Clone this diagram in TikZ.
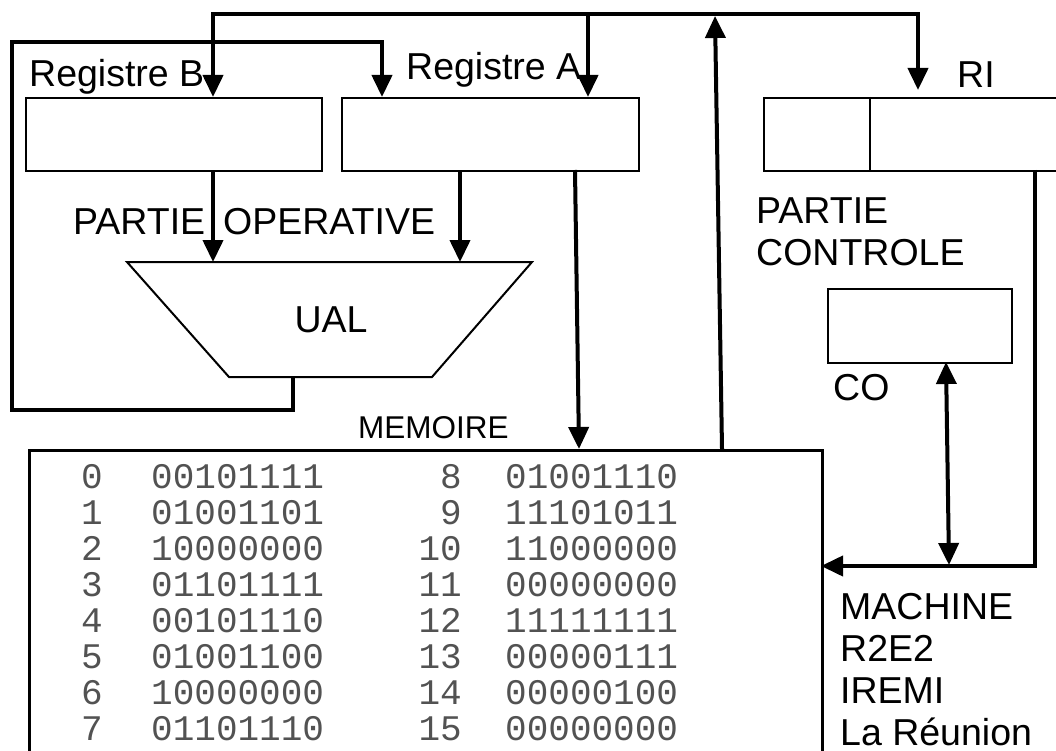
\documentclass[tikz,border=0pt]{standalone}
\usepackage{fontspec}
\setmainfont{Liberation Sans}
\newfontfamily\memfont{Liberation Mono}
\usetikzlibrary{arrows.meta,calc}
\begin{document}
\begin{tikzpicture}[x=1pt,y=-1pt,
  bus/.style={line width=4pt},
  tipx/.style={-{Triangle[length=22pt,width=20pt]}},
  tipboth/.style={{Triangle[length=22pt,width=20pt]}-{Triangle[length=22pt,width=20pt]}},
  box/.style={draw,line width=2pt,rectangle,inner sep=0pt,anchor=north west},
  lbl/.style={inner sep=0pt,anchor=base west,font=\fontsize{37.5}{42}\selectfont},
  mem/.style={inner sep=0pt,font=\memfont\fontsize{36}{36}\selectfont,text=black!68},
]
\useasboundingbox (0,0) rectangle (1056,751);
\clip (0,0) rectangle (1056,751);
\fill[white] (0,0) rectangle (1056,751);

% boxes
\node[box,minimum width=296pt,minimum height=73pt] (regB) at (25,97) {};
\node[box,minimum width=297pt,minimum height=73pt] (regA) at (341,97) {};
\node[box,minimum width=390pt,minimum height=73pt] (ri) at (763,97) {};
\draw[line width=1.2pt] ($(ri.north west)+(107,0)$) -- ($(ri.south west)+(107,0)$);
\node[box,minimum width=184pt,minimum height=74pt] (co) at (827,288) {};
\node[box,line width=2.5pt,minimum width=793pt,minimum height=400pt] (mem) at (28,449) {};

% UAL trapezoid
\coordinate (uTL) at (127,262);
\coordinate (uTR) at (532,262);
\coordinate (uBR) at (432,377);
\coordinate (uBL) at (229,377);
\draw[line width=2pt,line join=miter] (uTL) -- (uTR) -- (uBR) -- (uBL) -- cycle;
\node[inner sep=0pt,anchor=base,font=\fontsize{37.5}{42}\selectfont] (ual) at (331,332) {UAL};

% bus coordinates
\coordinate (busL) at (213,14);
\coordinate (busA) at (588,14);
\coordinate (busU) at (715,16);
\coordinate (busR) at (918,14);
\coordinate (memU) at (722,449);

\draw[bus,line cap=rect] (busL) -- (busR);
\draw[bus,tipx] (busL) -- (busL |- regB.north);
\draw[bus,tipx] (busA) -- (busA |- regA.north);
\draw[bus,tipx,shorten >=7pt] (busR) -- (busR |- ri.north);
\draw[bus,tipx] (memU) -- (busU);

% loop from UAL output to Registre A
\coordinate (ualOut) at (293,377);
\coordinate (loopBL) at (12,410);
\coordinate (loopTL) at (12,42);
\coordinate (loopTR) at (382,42);
\draw[bus,tipx,line join=miter] (ualOut) -- (ualOut |- loopBL) -- (loopBL) -- (loopTL) -- (loopTR) -- (loopTR |- regA.north);

% registers to UAL
\coordinate (ualInB) at (213,262);
\coordinate (ualInA) at (460,262);
\draw[bus,tipx] (ualInB |- regB.south) -- (ualInB);
\draw[bus,tipx] (ualInA |- regA.south) -- (ualInA);

% Registre A to memory
\coordinate (aOut) at (575,170);
\coordinate (mIn) at (579,449);
\draw[bus,tipx] (aOut) -- (mIn);

% RI to memory
\coordinate (riOut) at (1035,170);
\coordinate (riCorner) at (1035,566);
\coordinate (mRight) at (821,566);
\draw[bus,tipx,line join=miter] (riOut) -- (riCorner) -- (mRight);

% CO double arrow
\coordinate (coBot) at (946,362);
\coordinate (coLine) at (949,565);
\draw[bus,tipboth] (coBot) -- (coLine);

% labels
\node[lbl] (lregB) at (29,87) {Registre B};
\node[lbl] (lregA) at (406,80) {Registre A};
\node[lbl] (lri) at (957,88) {RI};
\node[lbl] (lpo) at (73,234) {PARTIE\hspace{18pt}OPERATIVE};
\node[lbl] (lpc1) at (756,223) {PARTIE};
\node[lbl] (lpc2) at (756,265) {CONTROLE};
\node[lbl] (lco) at (833,400) {CO};
\node[lbl,font=\fontsize{31.5}{36}\selectfont] (lmem) at (358,438) {MEMOIRE};
\node[lbl] (lm1) at (840,619) {MACHINE};
\node[lbl] (lm2) at (840,661) {R2E2};
\node[lbl] (lm3) at (840,703) {IREMI};
\node[lbl] (lm4) at (840,745) {La Réunion};

% memory contents
\foreach \r/\a/\b/\c/\d in {0/0/00101111/8/01001110, 1/1/01001101/9/11101011,
  2/2/10000000/10/11000000, 3/3/01101111/11/00000000, 4/4/00101110/12/11111111,
  5/5/01001100/13/00000111, 6/6/10000000/14/00000100, 7/7/01101110/15/00000000}
{
  \node[mem,anchor=base west] (ia\r) at (81,{488+36*\r}) {\a};
  \node[mem,anchor=base west] (va\r) at (151,{488+36*\r}) {\b};
  \node[mem,anchor=base east] (ib\r) at (462,{488+36*\r}) {\c};
  \node[mem,anchor=base west] (vb\r) at (505,{488+36*\r}) {\d};
}
\end{tikzpicture}
\end{document}
